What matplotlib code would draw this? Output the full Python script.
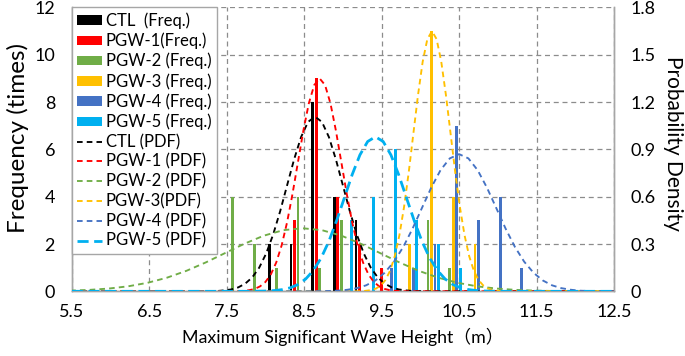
import matplotlib
matplotlib.use("Agg")
import matplotlib.pyplot as plt
from matplotlib.patches import Patch
from matplotlib.lines import Line2D

plt.rcParams['font.family'] = ['Lato', 'Noto Sans CJK JP', 'DejaVu Sans']

# ---------------- data ----------------
series_names = ["CTL", "PGW-1", "PGW-2", "PGW-3", "PGW-4", "PGW-5"]
freq_labels = ["CTL  (Freq.)", "PGW-1(Freq.)", "PGW-2 (Freq.)", "PGW-3 (Freq.)",
               "PGW-4 (Freq.)", "PGW-5 (Freq.)"]
pdf_labels = ["CTL (PDF)", "PGW-1 (PDF)", "PGW-2 (PDF)", "PGW-3(PDF)",
              "PGW-4 (PDF)", "PGW-5 (PDF)"]

# frequency bars: wave-height positions and counts
ctl_bar_x = [8.05, 8.33, 8.61, 8.89, 9.17]
ctl_bar_f = [2, 2, 8, 4, 3]
pgw1_bar_x = [8.375, 8.655, 8.935, 9.215, 9.495]
pgw1_bar_f = [3, 9, 4, 2, 1]
pgw2_bar_x = [7.58, 7.86, 8.14, 8.42, 8.70, 8.98, 10.10, 10.38]
pgw2_bar_f = [4, 2, 1, 4, 1, 3, 3, 1]
pgw3_bar_x = [9.865, 10.145, 10.425, 10.705]
pgw3_bar_f = [2, 11, 4, 2]
pgw4_bar_x = [9.63, 9.91, 10.19, 10.47, 10.75, 11.03, 11.31]
pgw4_bar_f = [1, 1, 2, 7, 3, 4, 1]
pgw5_bar_x = [9.115, 9.395, 9.675, 9.955, 10.235, 10.515]
pgw5_bar_f = [3, 4, 6, 3, 2, 1]

# probability density curves
ctl_pdf_x = [5.5, 7.20, 7.29, 7.38, 7.47, 7.56, 7.65, 7.74, 7.83, 7.92, 8.01, 8.10, 8.19,
             8.28, 8.37, 8.46, 8.55, 8.64, 8.73, 8.82, 8.91, 9.00, 9.09, 9.18, 9.27,
             9.36, 9.45, 9.54, 9.63, 9.72, 9.81, 9.90, 9.99, 10.08, 12.5]
ctl_pdf_y = [0, 0.000, 0.001, 0.002, 0.006, 0.012, 0.025, 0.049, 0.088, 0.150, 0.240,
             0.360, 0.507, 0.672, 0.836, 0.978, 1.074, 1.108, 1.074, 0.978, 0.836, 0.672,
             0.507, 0.360, 0.240, 0.150, 0.088, 0.049, 0.025, 0.012, 0.006, 0.002,
             0.001, 0.000, 0]

pgw1_pdf_x = [5.5, 7.58, 7.65, 7.72, 7.79, 7.86, 7.93, 8.00, 8.07, 8.14, 8.21, 8.28, 8.35,
              8.42, 8.49, 8.56, 8.63, 8.70, 8.77, 8.84, 8.91, 8.98, 9.05, 9.12, 9.19,
              9.26, 9.33, 9.40, 9.47, 9.54, 9.61, 9.68, 9.75, 9.82, 12.5]
pgw1_pdf_y = [0, 0.000, 0.001, 0.003, 0.007, 0.015, 0.031, 0.059, 0.107, 0.183, 0.292,
              0.438, 0.618, 0.819, 1.019, 1.191, 1.308, 1.350, 1.308, 1.191, 1.019, 0.819,
              0.618, 0.438, 0.292, 0.183, 0.107, 0.059, 0.031, 0.015, 0.007, 0.003,
              0.001, 0.000, 0]

pgw2_pdf_x = [5.48, 5.73, 5.98, 6.23, 6.48, 6.73, 6.98, 7.23, 7.48, 7.73, 7.98, 8.23, 8.48,
              8.73, 8.98, 9.23, 9.48, 9.73, 9.98, 10.23, 10.48, 10.73, 10.98, 11.23,
              11.48, 11.73, 11.98, 12.23, 12.48, 12.5]
pgw2_pdf_y = [0.0044, 0.0091, 0.0176, 0.0318, 0.0541, 0.0865, 0.1299, 0.1831, 0.2426,
              0.3019, 0.3530, 0.3877, 0.4000, 0.3877, 0.3530, 0.3019, 0.2426, 0.1831,
              0.1299, 0.0865, 0.0541, 0.0318, 0.0176, 0.0091, 0.0044, 0.0020, 0.0009,
              0.0004, 0.0001, 0.0001]

pgw3_pdf_x = [5.5, 9.19, 9.25, 9.31, 9.37, 9.43, 9.49, 9.55, 9.61, 9.67, 9.73, 9.79, 9.85,
              9.91, 9.97, 10.03, 10.09, 10.15, 10.21, 10.27, 10.33, 10.39, 10.45, 10.51,
              10.57, 10.63, 10.69, 10.75, 10.81, 10.87, 10.93, 10.99, 11.05, 11.11, 12.5]
pgw3_pdf_y = [0, 0.000, 0.001, 0.004, 0.008, 0.018, 0.038, 0.072, 0.131, 0.223, 0.357,
              0.536, 0.755, 1.001, 1.245, 1.456, 1.599, 1.650, 1.599, 1.456, 1.245, 1.001,
              0.755, 0.536, 0.357, 0.223, 0.131, 0.072, 0.038, 0.018, 0.008, 0.004,
              0.001, 0.000, 0]

pgw4_pdf_x = [5.5, 8.58, 8.70, 8.82, 8.94, 9.06, 9.18, 9.30, 9.42, 9.54, 9.66, 9.78, 9.90,
              10.02, 10.14, 10.26, 10.38, 10.50, 10.62, 10.74, 10.86, 10.98, 11.10, 11.22,
              11.34, 11.46, 11.58, 11.70, 11.82, 11.94, 12.06, 12.18, 12.30, 12.42, 12.5]
pgw4_pdf_y = [0, 0.000, 0.001, 0.002, 0.004, 0.010, 0.020, 0.038, 0.069, 0.118, 0.188,
              0.282, 0.398, 0.528, 0.657, 0.768, 0.843, 0.870, 0.843, 0.768, 0.657, 0.528,
              0.398, 0.282, 0.188, 0.118, 0.069, 0.038, 0.020, 0.010, 0.004, 0.002,
              0.001, 0.000, 0]

pgw5_pdf_x = [5.5, 7.82, 7.92, 8.02, 8.12, 8.22, 8.32, 8.42, 8.52, 8.62, 8.72, 8.82, 8.92,
              9.02, 9.12, 9.22, 9.32, 9.42, 9.52, 9.62, 9.72, 9.82, 9.92, 10.02, 10.12,
              10.22, 10.32, 10.42, 10.52, 10.62, 10.72, 10.82, 10.92, 11.02, 12.5]
pgw5_pdf_y = [0, 0.000, 0.001, 0.002, 0.005, 0.011, 0.022, 0.043, 0.078, 0.133, 0.212,
              0.318, 0.449, 0.594, 0.740, 0.865, 0.950, 0.980, 0.950, 0.865, 0.740, 0.594,
              0.449, 0.318, 0.212, 0.133, 0.078, 0.043, 0.022, 0.011, 0.005, 0.002,
              0.001, 0.000, 0]

x_ticks = [5.5, 6.5, 7.5, 8.5, 9.5, 10.5, 11.5, 12.5]
freq_ticks = [0, 2, 4, 6, 8, 10, 12]
pdf_ticks = [0, 0.3, 0.6, 0.9, 1.2, 1.5, 1.8]
pdf_tick_labels = ["0", "0.3", "0.6", "0.9", "1.2", "1.5", "1.8"]

# ---------------- style ----------------
colors = ["#000000", "#FF0000", "#70AD47", "#FFC000", "#4472C4", "#00B0F0"]
bar_x = [ctl_bar_x, pgw1_bar_x, pgw2_bar_x, pgw3_bar_x, pgw4_bar_x, pgw5_bar_x]
bar_f = [ctl_bar_f, pgw1_bar_f, pgw2_bar_f, pgw3_bar_f, pgw4_bar_f, pgw5_bar_f]
pdf_x = [ctl_pdf_x, pgw1_pdf_x, pgw2_pdf_x, pgw3_pdf_x, pgw4_pdf_x, pgw5_pdf_x]
pdf_y = [ctl_pdf_y, pgw1_pdf_y, pgw2_pdf_y, pgw3_pdf_y, pgw4_pdf_y, pgw5_pdf_y]
pdf_lw = [1.35, 1.35, 1.35, 1.35, 1.35, 2.0]
pdf_dash = [(3, 2.2), (3, 2.2), (3, 2.2), (3, 2.2), (3, 2.2), (4, 2)]
grid_col = "#8C8C8C"
spine_col = "#A6A6A6"

fig = plt.figure(figsize=(6.85, 3.56), dpi=100)
ax = fig.add_axes([0.1047, 0.1817, 0.7917, 0.7973])
ax2 = ax.twinx()

for xs, fs, c in zip(bar_x, bar_f, colors):
    ax.bar(xs, fs, width=0.036, color=c, linewidth=0, zorder=3)

ax.set_xlim(5.5, 12.5)
ax.set_ylim(0, 12)
ax.set_xticks(x_ticks)
ax.set_xticklabels([f"{v:g}" for v in x_ticks])
ax.set_yticks(freq_ticks)
ax.set_axisbelow(True)
ax.grid(True, color=grid_col, linestyle=(0, (4, 3)), linewidth=0.9)
ax.tick_params(axis='both', length=0, labelsize=13)
ax.tick_params(axis='y', pad=12)
ax.tick_params(axis='x', pad=9)

for xs, ys, c, lw, d in zip(pdf_x, pdf_y, colors, pdf_lw, pdf_dash):
    ax2.plot(xs, ys, color=c, linewidth=lw, linestyle=(0, d), zorder=3)
ax2.set_ylim(0, 1.8)
ax2.set_yticks(pdf_ticks)
ax2.set_yticklabels(pdf_tick_labels)
ax2.tick_params(axis='y', length=0, labelsize=13, pad=12)

for a in (ax, ax2):
    a.spines['top'].set_visible(False)
    for s in ('left', 'right', 'bottom'):
        a.spines[s].set_color(spine_col)
        a.spines[s].set_linewidth(1.0)

ax.set_xlabel("Maximum Significant Wave Height（m）", fontsize=12.8, labelpad=6)
ax.set_ylabel("Frequency (times)", fontsize=17.5, va='center', ha='center')
ax.yaxis.set_label_coords(-0.099, 0.54)
ax2.set_ylabel("Probability Density", fontsize=15, rotation=-90,
               va='center', ha='center')
ax2.yaxis.set_label_coords(1.109, 0.52)

handles = [Patch(facecolor=c, edgecolor='none') for c in colors]
handles += [Line2D([0], [0], color=c, linewidth=lw, linestyle=(0, d))
            for c, lw, d in zip(colors, pdf_lw, pdf_dash)]
labels = freq_labels + pdf_labels
leg = ax2.legend(handles, labels, loc='upper left', bbox_to_anchor=(0.0, 1.0),
                 fontsize=12, frameon=True, fancybox=False, framealpha=1,
                 edgecolor=spine_col, borderpad=0.3, labelspacing=0.22,
                 handlelength=1.5, handleheight=0.5, handletextpad=0.25,
                 borderaxespad=0.0)
leg.get_frame().set_linewidth(1.0)

fig.savefig("out.png", dpi=100)
